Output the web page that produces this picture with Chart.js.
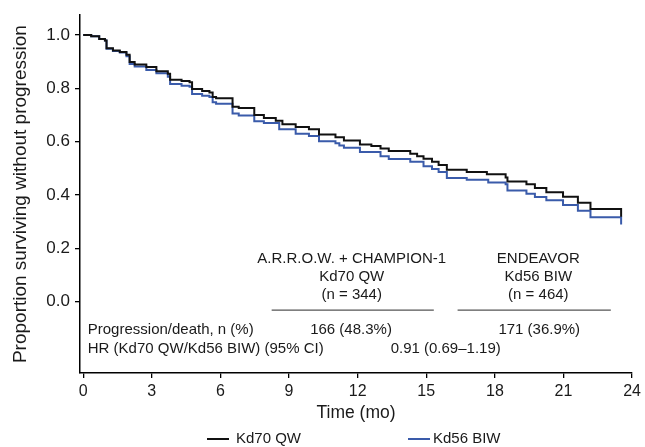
<!DOCTYPE html>
<html>
<head>
<meta charset="utf-8">
<script src="https://cdn.jsdelivr.net/npm/chart.js@4/dist/chart.umd.min.js"></script>
<style>
  html, body { margin: 0; padding: 0; background: #ffffff; }
  #wrap { width: 645px; height: 447px; }
</style>
</head>
<body>
<div id="wrap"><canvas id="c" width="645" height="447"></canvas></div>
<script>
// ---- Data ----
const seriesNames = ['Kd70 QW', 'Kd56 BIW'];

const timeKd70 = [0, 0.35, 0.7, 0.95, 1.02, 1.3, 1.6, 1.89, 2.03, 2.25, 2.76, 3.2, 3.7, 3.8, 4.3, 4.65, 4.76, 5.2, 5.52, 5.66, 5.81, 6.53, 6.8, 7.48, 7.9, 8.42, 8.71, 9.29, 9.87, 10.31, 11.03, 11.4, 12.1, 12.6, 13.0, 13.36, 14.3, 14.6, 14.88, 15.25, 15.54, 15.9, 16.77, 17.65, 18.47, 18.55, 19.38, 19.75, 20.25, 20.98, 21.63, 22.18, 23.52];
const survKd70 = [1.0, 0.995, 0.985, 0.979, 0.95, 0.942, 0.936, 0.926, 0.899, 0.889, 0.88, 0.864, 0.855, 0.832, 0.827, 0.823, 0.797, 0.79, 0.784, 0.767, 0.763, 0.731, 0.726, 0.70, 0.689, 0.678, 0.665, 0.655, 0.647, 0.627, 0.617, 0.604, 0.589, 0.584, 0.574, 0.565, 0.555, 0.545, 0.536, 0.525, 0.513, 0.495, 0.486, 0.478, 0.466, 0.451, 0.44, 0.426, 0.41, 0.394, 0.371, 0.348, 0.319];

const timeKd56 = [0, 0.35, 0.7, 0.95, 1.02, 1.3, 1.6, 1.89, 2.03, 2.25, 2.76, 3.2, 3.7, 3.8, 4.3, 4.65, 4.76, 5.2, 5.52, 5.66, 5.81, 6.53, 6.8, 7.48, 7.9, 8.57, 9.29, 9.87, 10.31, 11.03, 11.2, 11.4, 12.1, 13.0, 13.36, 14.3, 14.88, 15.25, 15.54, 15.9, 16.77, 17.71, 18.47, 18.55, 19.38, 19.75, 20.25, 20.98, 21.63, 22.18, 23.52];
const survKd56 = [1.0, 0.995, 0.985, 0.979, 0.948, 0.94, 0.934, 0.92, 0.891, 0.882, 0.869, 0.856, 0.843, 0.816, 0.81, 0.806, 0.779, 0.772, 0.767, 0.748, 0.742, 0.706, 0.698, 0.677, 0.67, 0.647, 0.63, 0.621, 0.602, 0.594, 0.586, 0.577, 0.561, 0.545, 0.535, 0.525, 0.508, 0.498, 0.486, 0.464, 0.457, 0.447, 0.44, 0.417, 0.405, 0.393, 0.38, 0.363, 0.341, 0.317, 0.29];

const xTickValues = [0, 3, 6, 9, 12, 15, 18, 21, 24];
const yTickValues = [0.0, 0.2, 0.4, 0.6, 0.8, 1.0];

// Table shown inside the plot
const groupHeaders = [
  ['A.R.R.O.W. + CHAMPION-1', 'Kd70 QW', '(n = 344)'],
  ['ENDEAVOR', 'Kd56 BIW', '(n = 464)']
];
const rowLabels = ['Progression/death, n (%)', 'HR (Kd70 QW/Kd56 BIW) (95% CI)'];
const eventsText = ['166 (48.3%)', '171 (36.9%)'];
const hrText = '0.91 (0.69\u20131.19)';

// ---- Styling ----
const FONT = '"Liberation Sans", Arial, Helvetica, sans-serif';
const TXT = '#1a1a1a';
const BLACK = '#111111';
const BLUE = '#3A5BAA';

function pts(t, s) { return t.map((v, i) => ({ x: v, y: s[i] })); }

const tablePlugin = {
  id: 'kmTable',
  afterDatasetsDraw(chart) {
    const ctx = chart.ctx;
    const xs = chart.scales.x, ys = chart.scales.y;
    const X = v => xs.getPixelForValue(v);
    const Y = v => ys.getPixelForValue(v);
    ctx.save();
    ctx.fillStyle = TXT;
    ctx.font = '15px ' + FONT;
    ctx.textBaseline = 'middle';
    // group headers (positions in data units)
    const groupCenters = [11.74, 19.9];
    const headerY = [0.159, 0.093, 0.026];
    ctx.textAlign = 'center';
    groupHeaders.forEach((g, gi) => {
      g.forEach((line, li) => ctx.fillText(line, X(groupCenters[gi]), Y(headerY[li])));
    });
    // separator lines
    ctx.strokeStyle = '#555555';
    ctx.lineWidth = 1.3;
    const seps = [[8.24, 15.33], [16.37, 23.07]];
    seps.forEach(s => {
      ctx.beginPath();
      ctx.moveTo(X(s[0]), Y(-0.031));
      ctx.lineTo(X(s[1]), Y(-0.031));
      ctx.stroke();
    });
    // rows
    ctx.textAlign = 'left';
    ctx.fillText(rowLabels[0], X(0.2), Y(-0.107));
    ctx.fillText(rowLabels[1], X(0.2), Y(-0.175));
    ctx.textAlign = 'center';
    ctx.fillText(eventsText[0], X(11.71), Y(-0.107));
    ctx.fillText(eventsText[1], X(19.94), Y(-0.107));
    ctx.fillText(hrText, X(15.85), Y(-0.175));
    ctx.restore();
  },
  afterDraw(chart) {
    // legend at the bottom
    const ctx = chart.ctx;
    const ds = chart.data.datasets;
    ctx.save();
    ctx.font = '15px ' + FONT;
    ctx.textBaseline = 'middle';
    ctx.textAlign = 'left';
    const y = 439;
    const starts = [207, 408];
    const gaps = [7, 3];
    ds.forEach((d, i) => {
      ctx.strokeStyle = d.borderColor;
      ctx.lineWidth = 2;
      ctx.beginPath();
      ctx.moveTo(starts[i], y);
      ctx.lineTo(starts[i] + 22, y);
      ctx.stroke();
      ctx.fillStyle = TXT;
      ctx.fillText(d.label, starts[i] + 22 + gaps[i], y);
    });
    ctx.restore();
  }
};

new Chart(document.getElementById('c'), {
  type: 'line',
  data: {
    datasets: [
      { label: seriesNames[0], data: pts(timeKd70, survKd70), borderColor: BLACK, borderWidth: 2, stepped: true, pointRadius: 0, fill: false },
      { label: seriesNames[1], data: pts(timeKd56, survKd56), borderColor: BLUE, borderWidth: 2, stepped: true, pointRadius: 0, fill: false }
    ]
  },
  options: {
    responsive: false,
    animation: false,
    devicePixelRatio: 1,
    layout: { padding: { top: 11, right: 11, left: 0, bottom: 22 } },
    plugins: { legend: { display: false }, tooltip: { enabled: false } },
    scales: {
      x: {
        type: 'linear',
        min: -0.14,
        max: 24,
        afterBuildTicks: s => { s.ticks = xTickValues.map(v => ({ value: v })); },
        afterFit: s => { s.height = 52; },
        ticks: { color: TXT, font: { family: FONT, size: 16 }, padding: 4, maxRotation: 0, autoSkip: false,
                 callback: v => String(v) },
        grid: { drawOnChartArea: false, drawTicks: true, tickLength: 5, color: '#000', lineWidth: 1.3 },
        border: { display: true, color: '#000', width: 1.5 },
        title: { display: true, text: 'Time (mo)', color: TXT, font: { family: FONT, size: 17.5 }, padding: { top: 0, bottom: 1 } }
      },
      y: {
        min: -0.267,
        max: 1.074,
        afterBuildTicks: s => { s.ticks = yTickValues.map(v => ({ value: v })); },
        afterFit: s => { s.width = 80; },
        ticks: { color: TXT, font: { family: FONT, size: 17 }, padding: 5, autoSkip: false,
                 callback: v => Number(v).toFixed(1) },
        grid: { drawOnChartArea: false, drawTicks: true, tickLength: 5, color: '#000', lineWidth: 1.3 },
        border: { display: true, color: '#000', width: 1.5 },
        title: { display: true, text: 'Proportion surviving without progression', color: TXT, font: { family: FONT, size: 19 }, padding: { top: 9, bottom: 0 } }
      }
    }
  },
  plugins: [tablePlugin]
});
</script>
</body>
</html>
